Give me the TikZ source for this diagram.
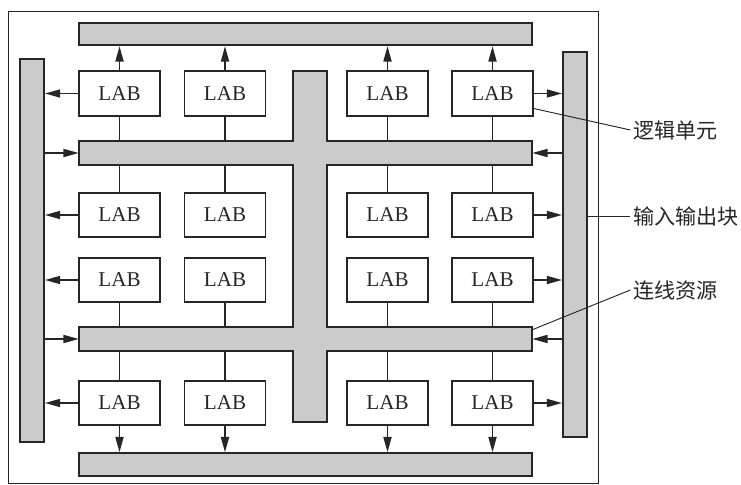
\documentclass[tikz,border=0pt]{standalone}
\usepackage{fontspec}
\setmainfont{Liberation Serif}
\newfontfamily\cjkfont{Noto Sans CJK SC}
\usetikzlibrary{arrows.meta}
\definecolor{fpgaink}{HTML}{262626}
\definecolor{fpgafill}{HTML}{CBCBCB}

\begin{document}
\begin{tikzpicture}[
  x=0.03cm,
  y=-0.03cm,
  every node/.style={fpgaink},
  lab/.style={draw=fpgaink, line width=1.5pt, fill=white, inner sep=0pt,
    minimum width=2.43cm, minimum height=1.33cm, font=\fontsize{18}{20}\selectfont},
  bar/.style={draw=fpgaink, line width=1.5pt, fill=fpgafill, inner sep=0pt},
  hbar/.style={bar, minimum width=13.59cm, minimum height=0.68cm},
  vbar/.style={bar, minimum width=0.72cm},
  track/.style={inner sep=0pt, minimum width=13.59cm, minimum height=0.72cm},
  link/.style={fpgaink, line width=1.5pt, -{Triangle[length=4.6mm, width=2.4mm]}},
  wire/.style={fpgaink, line width=1.5pt},
  leader/.style={fpgaink, line width=0.8pt},
  tag/.style={anchor=west, inner sep=0pt, font=\cjkfont\fontsize{18}{20}\selectfont}
]
  % ---- page and outer frame --------------------------------------------
  \useasboundingbox (0,0) rectangle (741,485);
  \draw[leader] (8,11) rectangle (598,483);

  % ---- I/O blocks round the edge ---------------------------------------
  \node[hbar] (topio) at (305.5,34) {};
  \node[hbar] (botio) at (305.5,464.5) {};
  \node[vbar, minimum height=11.49cm] (leftio) at (32,250.5) {};
  \node[vbar, minimum height=11.55cm] (rightio) at (575,244.5) {};

  % ---- routing: two rows and one column, drawn as one shape -------------
  \node[track] (routeA) at (305.5,153) {};
  \node[track] (routeB) at (305.5,339) {};
  \node[inner sep=0pt, minimum width=1.02cm, minimum height=10.53cm] (routeV) at (310,246.5) {};
  \path[bar] (routeV.north west) -- (routeV.north east)
    -- (routeV.east |- routeA.north) -- (routeA.north east)
    -- (routeA.south east) -- (routeV.east |- routeA.south)
    -- (routeV.east |- routeB.north) -- (routeB.north east)
    -- (routeB.south east) -- (routeV.east |- routeB.south)
    -- (routeV.south east) -- (routeV.south west)
    -- (routeV.west |- routeB.south) -- (routeB.south west)
    -- (routeB.north west) -- (routeV.west |- routeB.north)
    -- (routeV.west |- routeA.south) -- (routeA.south west)
    -- (routeA.north west) -- (routeV.west |- routeA.north) -- cycle;

  % ---- logic array blocks ----------------------------------------------
  \node[lab] (lab11) at (119.5,93.5) {LAB};
  \node[lab] (lab12) at (225,93.5)   {LAB};
  \node[lab] (lab13) at (387.5,93.5) {LAB};
  \node[lab] (lab14) at (492.5,93.5) {LAB};
  \node[lab] (lab21) at (119.5,215)  {LAB};
  \node[lab] (lab22) at (225,215)    {LAB};
  \node[lab] (lab23) at (387.5,215)  {LAB};
  \node[lab] (lab24) at (492.5,215)  {LAB};
  \node[lab] (lab31) at (119.5,280)  {LAB};
  \node[lab] (lab32) at (225,280)    {LAB};
  \node[lab] (lab33) at (387.5,280)  {LAB};
  \node[lab] (lab34) at (492.5,280)  {LAB};
  \node[lab] (lab41) at (119.5,403)  {LAB};
  \node[lab] (lab42) at (225,403)    {LAB};
  \node[lab] (lab43) at (387.5,403)  {LAB};
  \node[lab] (lab44) at (492.5,403)  {LAB};

  % ---- outputs to the top and bottom I/O blocks ------------------------
  \draw[link] (lab11.north) -- (lab11.north |- topio.south);
  \draw[link] (lab12.north) -- (lab12.north |- topio.south);
  \draw[link] (lab13.north) -- (lab13.north |- topio.south);
  \draw[link] (lab14.north) -- (lab14.north |- topio.south);
  \draw[link] (lab41.south) -- (lab41.south |- botio.north);
  \draw[link] (lab42.south) -- (lab42.south |- botio.north);
  \draw[link] (lab43.south) -- (lab43.south |- botio.north);
  \draw[link] (lab44.south) -- (lab44.south |- botio.north);

  % ---- outputs to the side I/O blocks ----------------------------------
  \draw[link] (lab11.west) -- (lab11.west -| leftio.east);
  \draw[link] (lab21.west) -- (lab21.west -| leftio.east);
  \draw[link] (lab31.west) -- (lab31.west -| leftio.east);
  \draw[link] (lab41.west) -- (lab41.west -| leftio.east);
  \draw[link] (lab14.east) -- (lab14.east -| rightio.west);
  \draw[link] (lab24.east) -- (lab24.east -| rightio.west);
  \draw[link] (lab34.east) -- (lab34.east -| rightio.west);
  \draw[link] (lab44.east) -- (lab44.east -| rightio.west);

  % ---- inputs from the side I/O blocks into the routing ----------------
  \draw[link] (leftio.east |- routeA.west) -- (routeA.west);
  \draw[link] (leftio.east |- routeB.west) -- (routeB.west);
  \draw[link] (rightio.west |- routeA.east) -- (routeA.east);
  \draw[link] (rightio.west |- routeB.east) -- (routeB.east);

  % ---- LAB taps on the routing rows ------------------------------------
  \draw[wire] (lab11.south) -- (lab11.south |- routeA.north);
  \draw[wire] (lab12.south) -- (lab12.south |- routeA.north);
  \draw[wire] (lab13.south) -- (lab13.south |- routeA.north);
  \draw[wire] (lab14.south) -- (lab14.south |- routeA.north);
  \draw[wire] (lab21.north) -- (lab21.north |- routeA.south);
  \draw[wire] (lab22.north) -- (lab22.north |- routeA.south);
  \draw[wire] (lab23.north) -- (lab23.north |- routeA.south);
  \draw[wire] (lab24.north) -- (lab24.north |- routeA.south);
  \draw[wire] (lab31.south) -- (lab31.south |- routeB.north);
  \draw[wire] (lab32.south) -- (lab32.south |- routeB.north);
  \draw[wire] (lab33.south) -- (lab33.south |- routeB.north);
  \draw[wire] (lab34.south) -- (lab34.south |- routeB.north);
  \draw[wire] (lab41.north) -- (lab41.north |- routeB.south);
  \draw[wire] (lab42.north) -- (lab42.north |- routeB.south);
  \draw[wire] (lab43.north) -- (lab43.north |- routeB.south);
  \draw[wire] (lab44.north) -- (lab44.north |- routeB.south);

  % ---- callouts --------------------------------------------------------
  \node[tag] (logic) at (633,130) {逻辑单元};
  \node[tag] (io) at (633,216) {输入输出块};
  \node[tag] (wiring) at (633,290) {连线资源};
  \draw[leader] ([yshift=0.24cm]lab14.south east) -- ([xshift=-0.08cm]logic.west);
  \draw[leader] (rightio.east |- io.west) -- ([xshift=-0.08cm]io.west);
  \draw[leader] ([yshift=-0.09cm]routeB.north east) -- ([xshift=-0.08cm]wiring.west);
\end{tikzpicture}
\end{document}
